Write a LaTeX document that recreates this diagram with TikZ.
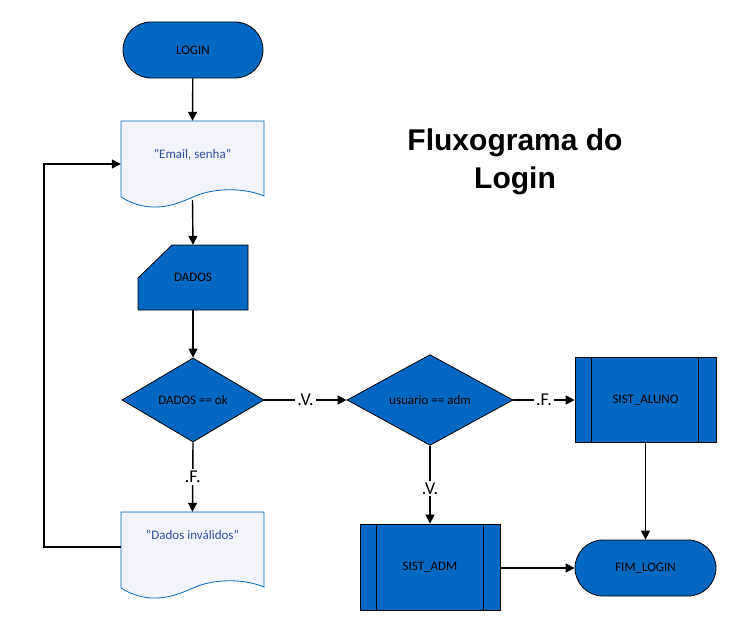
\documentclass[tikz,border=0pt]{standalone}
\usepackage{fontspec}
\setmainfont{Carlito}
\newfontfamily\titlefont{Liberation Sans}
\usetikzlibrary{shapes.geometric,shapes.misc,arrows.meta,calc}
\definecolor{fb}{HTML}{0068C2}
\definecolor{docfill}{HTML}{F2F3FB}
\definecolor{doctext}{HTML}{2F4F9F}
\begin{document}
\begin{tikzpicture}[x=1pt,y=-1pt,
  every node/.style={font=\fontsize{13}{15}\selectfont, inner sep=0pt},
  term/.style={rounded rectangle, draw=black, fill=fb, line width=0.8pt, minimum width=140pt, minimum height=56pt},
  dec/.style={diamond, draw=black, fill=fb, line width=0.8pt, minimum width=142pt, minimum height=84pt},
  proc/.style={rectangle, draw=black, fill=fb, line width=0.8pt, minimum width=141pt, minimum height=85pt},
  docbox/.style={rectangle, minimum width=143pt, minimum height=76pt},
  arr/.style={-{Triangle[length=9pt,width=9pt]}, line width=1.4pt},
  lab/.style={fill=white, font=\fontsize{18}{20}\selectfont, inner sep=2pt}]
\useasboundingbox (0,0) rectangle (743,626);
% title
\node[font=\titlefont\bfseries\fontsize{30}{38}\selectfont, align=center] (title) at (515,162) {Fluxograma do\\Login};
% LOGIN
\node[term] (login) at (193,50) {LOGIN};
% Email doc
\node[docbox] (email) at (192.5,159) {};
\fill[docfill,draw=fb,line width=0.8pt] (121,121) -- (264,121) -- (264,196)
  .. controls (245,188) and (215,187) .. (193,197)
  .. controls (175,205) and (150,215) .. (121,197) -- cycle;
\node[text=doctext] (emailtxt) at (192.5,155) {"Email, senha"};
% DADOS card
\node[rectangle, minimum width=110pt, minimum height=65pt] (dados) at (193,277.5) {};
\fill[fb,draw=black,line width=0.8pt] (172,245) -- (248,245) -- (248,310) -- (138,310) -- (138,278) -- cycle;
\node (dadostxt) at (193,277) {DADOS};
% decision 1
\node[dec] (d1) at (193,400) {DADOS == ok};
% Dados invalidos doc
\node[docbox] (inv) at (192.5,550) {};
\fill[docfill,draw=fb,line width=0.8pt] (121,512) -- (264,512) -- (264,587)
  .. controls (245,579) and (215,578) .. (193,588)
  .. controls (175,596) and (150,606) .. (121,588) -- cycle;
\node[text=doctext] (invtxt) at (192.5,535) {"Dados inválidos"};
% decision 2
\node[dec, minimum width=166pt] (d2) at (430,400) {usuario == adm};
% SIST_ALUNO
\node[proc] (aluno) at (645.5,400) {SIST\_ALUNO};
\draw[line width=0.8pt] ($(aluno.north west)+(17,0)$) -- ($(aluno.south west)+(17,0)$)
  ($(aluno.north east)+(-18,0)$) -- ($(aluno.south east)+(-18,0)$);
% SIST_ADM
\node[proc, minimum width=140pt, minimum height=86pt] (adm) at (430,567) {SIST\_ADM};
\draw[line width=0.8pt] ($(adm.north west)+(17,0)$) -- ($(adm.south west)+(17,0)$)
  ($(adm.north east)+(-17,0)$) -- ($(adm.south east)+(-17,0)$);
% FIM
\node[term, minimum width=141pt] (fim) at (645.5,568) {FIM\_LOGIN};
% connectors
\draw[arr] (login) -- (email.north);
\draw[arr] (192.5,200) -- (dados.north);
\draw[arr] (dados.south) -- (d1.north);
\draw[arr] (d1.south) -- node[lab]{.F.} (inv.north);
\coordinate (c1) at (44,547);
\coordinate (c2) at (44,164);
\draw[arr] (inv.west |- c1) -- (c1) -- (c2) -- (email.west |- c2);
\draw[arr] (d1.east) -- node[lab]{.V.} (d2.west);
\draw[arr] (d2.east) -- node[lab]{.F.} (aluno.west);
\draw[arr] (d2.south) -- node[lab, pos=0.55]{.V.} (adm.north);
\draw[arr] (aluno.south) -- (fim.north);
\draw[arr] (adm.east |- fim) -- (fim.west);
\end{tikzpicture}
\end{document}
